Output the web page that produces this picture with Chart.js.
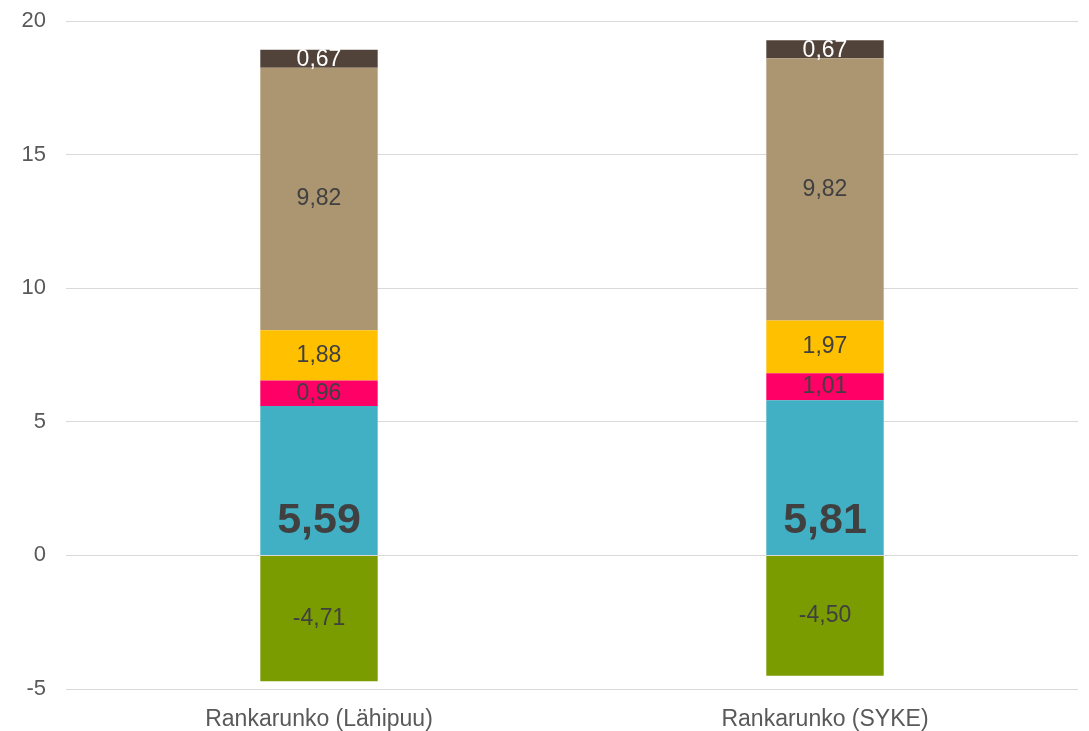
<!DOCTYPE html>
<html>
<head>
<meta charset="utf-8">
<script src="https://cdn.jsdelivr.net/npm/chart.js@4/dist/chart.umd.min.js"></script>
<style>
  html, body { margin: 0; padding: 0; background: #ffffff; }
  #wrap { width: 1089px; height: 731px; position: relative; }
</style>
</head>
<body>
<div id="wrap"><canvas id="c"></canvas></div>
<script>
const categories = ['Rankarunko (Lähipuu)', 'Rankarunko (SYKE)'];
const seriesGreen  = [-4.71, -4.50];
const seriesBlue   = [5.59, 5.81];
const seriesPink   = [0.96, 1.01];
const seriesYellow = [1.88, 1.97];
const seriesTan    = [9.82, 9.82];
const seriesBrown  = [0.67, 0.67];
const yTicks = [-5, 0, 5, 10, 15, 20];

const fmt = v => v.toFixed(2).replace('.', ',');
const FONT = '"Liberation Sans", Arial, sans-serif';

const labelPlugin = {
  id: 'segLabels',
  afterDatasetsDraw(chart) {
    const ctx = chart.ctx;
    ctx.save();
    ctx.textAlign = 'center';
    ctx.textBaseline = 'middle';
    chart.data.datasets.forEach((ds, di) => {
      const meta = chart.getDatasetMeta(di);
      meta.data.forEach((el, i) => {
        const v = ds.data[i];
        const txt = fmt(v);
        let y = (el.y + el.base) / 2;
        if (ds.labelStyle === 'big') {
          ctx.font = 'bold 43px ' + FONT;
          ctx.fillStyle = '#404040';
          y = el.base - 34;
        } else if (ds.labelStyle === 'white') {
          ctx.font = '23px ' + FONT;
          ctx.fillStyle = '#ffffff';
          y = y + 1;
        } else {
          ctx.font = '23px ' + FONT;
          ctx.fillStyle = '#404040';
        }
        ctx.fillText(txt, el.x, y);
      });
    });
    ctx.restore();
  }
};

new Chart(document.getElementById('c'), {
  type: 'bar',
  data: {
    labels: categories,
    datasets: [
      { data: seriesGreen,  backgroundColor: '#7A9C00' },
      { data: seriesBlue,   backgroundColor: '#41B0C4', labelStyle: 'big' },
      { data: seriesPink,   backgroundColor: '#FF0066' },
      { data: seriesYellow, backgroundColor: '#FFC000' },
      { data: seriesTan,    backgroundColor: '#AC9672' },
      { data: seriesBrown,  backgroundColor: '#52433A', labelStyle: 'white' }
    ].map(d => Object.assign({ barPercentage: 0.232, categoryPercentage: 1.0, borderWidth: 0 }, d))
  },
  options: {
    responsive: true,
    maintainAspectRatio: false,
    animation: false,
    layout: { padding: { top: 21, right: 11, bottom: 0, left: 0 } },
    plugins: { legend: { display: false }, tooltip: { enabled: false } },
    scales: {
      x: {
        stacked: true,
        grid: { display: false, drawTicks: false },
        border: { display: false },
        ticks: { color: '#595959', font: { family: FONT, size: 23 }, padding: 17 },
        afterFit(s) { s.height = 42; s.paddingLeft = 0; s.paddingRight = 0; }
      },
      y: {
        stacked: true,
        min: -5, max: 20,
        afterBuildTicks(s) { s.ticks = yTicks.map(v => ({ value: v })); },
        grid: { color: '#D9D9D9', lineWidth: 1, drawTicks: false },
        border: { display: false },
        ticks: { color: '#595959', font: { family: FONT, size: 22 }, padding: 20 },
        afterFit(s) { s.width = 66; s.paddingTop = 0; s.paddingBottom = 0; }
      }
    }
  },
  plugins: [labelPlugin]
});
</script>
</body>
</html>
